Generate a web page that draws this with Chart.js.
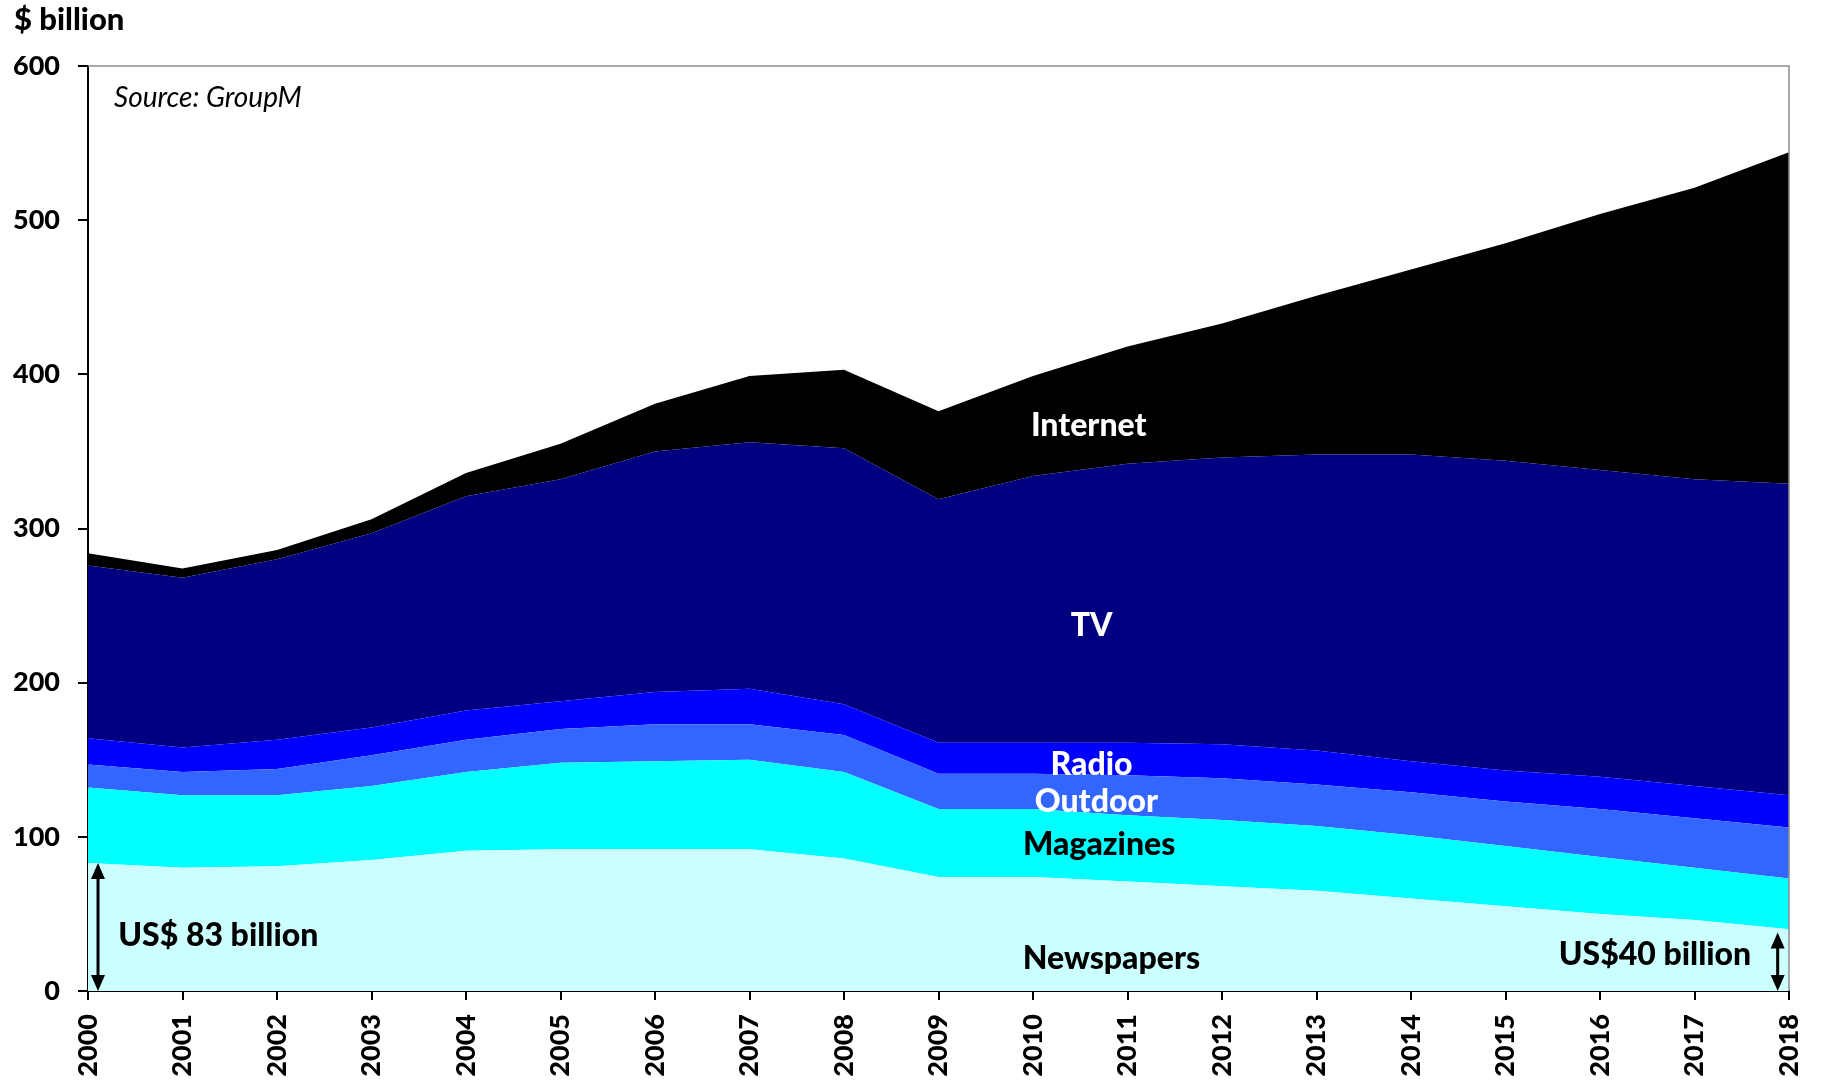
<!DOCTYPE html>
<html>
<head>
<meta charset="utf-8">
<script src="https://cdn.jsdelivr.net/npm/chart.js@4"></script>
<style>
  html, body { margin: 0; padding: 0; background: #ffffff; }
  #wrap { width: 1821px; height: 1085px; position: relative; }
  canvas { display: block; }
</style>
</head>
<body>
<div id="wrap"><canvas id="c" width="1821" height="1085"></canvas></div>
<script>
// ---- Data (US$ billion) ----
const years = ['2000','2001','2002','2003','2004','2005','2006','2007','2008','2009',
               '2010','2011','2012','2013','2014','2015','2016','2017','2018'];
const newspapers = [83, 80, 81, 85, 91, 92, 92, 92, 86, 74, 74, 71, 68, 65, 60, 55, 50, 46, 40];
const magazines  = [49, 47, 46, 48, 51, 56, 57, 58, 56, 44, 44, 43, 43, 42, 41, 39, 37, 34, 33];
const outdoor    = [15, 15, 17, 20, 21, 22, 24, 23, 24, 23, 23, 26, 27, 27, 28, 29, 31, 32, 33];
const radio      = [17, 16, 19, 18, 19, 18, 21, 23, 20, 20, 20, 21, 22, 22, 20, 20, 21, 21, 21];
const tv         = [112,110,117,126,139,144,156,160,166,158,173,181,186,192,199,201,199,199,202];
const internet   = [8, 6, 6, 9, 15, 23, 31, 43, 51, 57, 65, 76, 87, 103,120,141,166,189,215];
const yTicks     = [0, 100, 200, 300, 400, 500, 600];

const FONT = 'Lato, "Open Sans", "DejaVu Sans", sans-serif';

// Area labels and arrows (placed in data coordinates)
const areaLabels = [
  { text: 'Internet',   x: 10.59, y: 367, color: '#ffffff', align: 'center' },
  { text: 'TV',         x: 10.62, y: 237, color: '#ffffff', align: 'center' },
  { text: 'Radio',      x: 10.62, y: 146.5, color: '#ffffff', align: 'center' },
  { text: 'Outdoor',    x: 10.67, y: 123, color: '#ffffff', align: 'center' },
  { text: 'Magazines',  x: 10.70, y: 95,  color: '#000000', align: 'center' },
  { text: 'Newspapers', x: 10.83, y: 21,  color: '#000000', align: 'center' },
  { text: 'US$ 83 billion', x: 0.32, y: 36,  color: '#000000', align: 'left' },
  { text: 'US$40 billion',  x: 17.6, y: 23.5, color: '#000000', align: 'right' }
];
const arrows = [
  { x: 0.106, from: 0, to: 83 },
  { x: 17.88, from: 0, to: 38 }
];

const mk = (label, data, color, fill) => ({
  label, data, backgroundColor: color, borderColor: color, borderWidth: 0,
  pointRadius: 0, pointHoverRadius: 0, tension: 0, fill
});

const overlay = {
  id: 'overlay',
  afterDraw(chart) {
    const ctx = chart.ctx;
    const xs = chart.scales.x, ys = chart.scales.y;
    const a = chart.chartArea;
    ctx.save();
    // grey top and right frame lines
    ctx.strokeStyle = '#8c8c8c';
    ctx.lineWidth = 1.5;
    ctx.beginPath();
    ctx.moveTo(a.left, a.top);
    ctx.lineTo(a.right, a.top);
    ctx.lineTo(a.right, a.bottom);
    ctx.stroke();

    // titles
    ctx.fillStyle = '#000000';
    ctx.textBaseline = 'alphabetic';
    ctx.textAlign = 'left';
    ctx.font = '900 31px ' + FONT;
    ctx.fillText('$ billion', 14, 30);
    ctx.font = 'italic 28px ' + FONT;
    ctx.fillText('Source: GroupM', 114, 107);

    // area labels
    ctx.font = '900 32px ' + FONT;
    ctx.textBaseline = 'middle';
    areaLabels.forEach(l => {
      ctx.fillStyle = l.color;
      ctx.textAlign = l.align;
      ctx.fillText(l.text, xs.getPixelForValue(l.x), ys.getPixelForValue(l.y));
    });

    // double arrows
    ctx.strokeStyle = '#000000';
    ctx.fillStyle = '#000000';
    arrows.forEach(ar => {
      const x = xs.getPixelForValue(ar.x);
      const y0 = ys.getPixelForValue(ar.from);
      const y1 = ys.getPixelForValue(ar.to);
      const head = 16, hw = 7;
      ctx.lineWidth = 3;
      ctx.beginPath();
      ctx.moveTo(x, y0 - head + 2);
      ctx.lineTo(x, y1 + head - 2);
      ctx.stroke();
      ctx.beginPath();
      ctx.moveTo(x, y1); ctx.lineTo(x - hw, y1 + head); ctx.lineTo(x + hw, y1 + head); ctx.closePath();
      ctx.fill();
      ctx.beginPath();
      ctx.moveTo(x, y0); ctx.lineTo(x - hw, y0 - head); ctx.lineTo(x + hw, y0 - head); ctx.closePath();
      ctx.fill();
    });
    ctx.restore();
  }
};

new Chart(document.getElementById('c'), {
  type: 'line',
  data: {
    labels: years,
    datasets: [
      mk('Newspapers', newspapers, '#CCFFFF', 'origin'),
      mk('Magazines',  magazines,  '#00FFFF', '-1'),
      mk('Outdoor',    outdoor,    '#3366FF', '-1'),
      mk('Radio',      radio,      '#0000FF', '-1'),
      mk('TV',         tv,         '#000080', '-1'),
      mk('Internet',   internet,   '#000000', '-1')
    ]
  },
  options: {
    responsive: false,
    animation: false,
    layout: { padding: { top: 66, right: 32, left: 0, bottom: 0 } },
    plugins: {
      legend: { display: false },
      tooltip: { enabled: false },
      title: { display: false }
    },
    elements: { line: { borderWidth: 0 } },
    scales: {
      x: {
        type: 'category',
        offset: false,
        afterFit: s => { s.height = 94; s.paddingLeft = 0; s.paddingRight = 0; },
        grid: { display: true, drawOnChartArea: false, drawTicks: true, tickLength: 9, color: '#000000', lineWidth: 2 },
        border: { display: true, color: '#000000', width: 2 },
        ticks: {
          autoSkip: false, minRotation: 90, maxRotation: 90, padding: 14,
          color: '#000000', font: { family: FONT, size: 27, weight: '900' }
        }
      },
      y: {
        stacked: true,
        min: 0, max: 600,
        afterFit: s => { s.width = 88; s.paddingTop = 0; s.paddingBottom = 0; },
        afterBuildTicks: s => { s.ticks = yTicks.map(v => ({ value: v })); },
        grid: { display: true, drawOnChartArea: false, drawTicks: true, tickLength: 10, color: '#000000', lineWidth: 2 },
        border: { display: true, color: '#000000', width: 2 },
        ticks: {
          padding: 18, color: '#000000',
          font: { family: FONT, size: 27, weight: '900' }
        }
      }
    }
  },
  plugins: [overlay]
});
</script>
</body>
</html>
